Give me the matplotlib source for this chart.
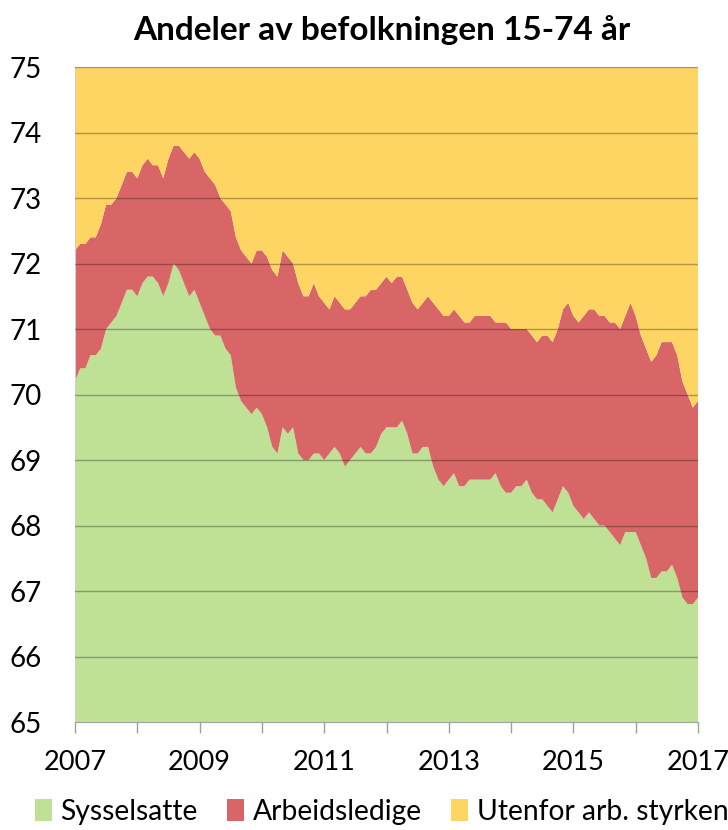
import matplotlib
matplotlib.use("Agg")
import matplotlib.pyplot as plt
from matplotlib.patches import Patch
import numpy as np

plt.rcParams['font.family'] = ['Lato', 'DejaVu Sans']

# Monthly data, Jan 2007 .. Jan 2017 (share of population 15-74, %)
sysselsatte = [
    70.2, 70.4, 70.4, 70.6, 70.6, 70.7, 71.0, 71.1, 71.2, 71.4, 71.6, 71.6,
    71.5, 71.7, 71.8, 71.8, 71.7, 71.5, 71.7, 72.0, 71.9, 71.7, 71.5, 71.6,
    71.4, 71.2, 71.0, 70.9, 70.9, 70.7, 70.6, 70.1, 69.9, 69.8, 69.7, 69.8,
    69.7, 69.5, 69.2, 69.1, 69.5, 69.4, 69.5, 69.1, 69.0, 69.0, 69.1, 69.1,
    69.0, 69.1, 69.2, 69.1, 68.9, 69.0, 69.1, 69.2, 69.1, 69.1, 69.2, 69.4,
    69.5, 69.5, 69.5, 69.6, 69.4, 69.1, 69.1, 69.2, 69.2, 68.9, 68.7, 68.6,
    68.7, 68.8, 68.6, 68.6, 68.7, 68.7, 68.7, 68.7, 68.7, 68.8, 68.6, 68.5,
    68.5, 68.6, 68.6, 68.7, 68.5, 68.4, 68.4, 68.3, 68.2, 68.4, 68.6, 68.5,
    68.3, 68.2, 68.1, 68.2, 68.1, 68.0, 68.0, 67.9, 67.8, 67.7, 67.9, 67.9,
    67.9, 67.7, 67.5, 67.2, 67.2, 67.3, 67.3, 67.4, 67.2, 66.9, 66.8, 66.8,
    66.9,
]
arbeidsstyrke = [
    72.2, 72.3, 72.3, 72.4, 72.4, 72.6, 72.9, 72.9, 73.0, 73.2, 73.4, 73.4,
    73.3, 73.5, 73.6, 73.5, 73.5, 73.3, 73.6, 73.8, 73.8, 73.7, 73.6, 73.7,
    73.6, 73.4, 73.3, 73.2, 73.0, 72.9, 72.8, 72.4, 72.2, 72.1, 72.0, 72.2,
    72.2, 72.1, 71.9, 71.8, 72.2, 72.1, 72.0, 71.7, 71.5, 71.5, 71.7, 71.5,
    71.4, 71.3, 71.5, 71.4, 71.3, 71.3, 71.4, 71.5, 71.5, 71.6, 71.6, 71.7,
    71.8, 71.7, 71.8, 71.8, 71.6, 71.4, 71.3, 71.4, 71.5, 71.4, 71.3, 71.2,
    71.2, 71.3, 71.2, 71.1, 71.1, 71.2, 71.2, 71.2, 71.2, 71.1, 71.1, 71.1,
    71.0, 71.0, 71.0, 71.0, 70.9, 70.8, 70.9, 70.9, 70.8, 71.0, 71.3, 71.4,
    71.2, 71.1, 71.2, 71.3, 71.3, 71.2, 71.2, 71.1, 71.1, 71.0, 71.2, 71.4,
    71.2, 70.9, 70.7, 70.5, 70.6, 70.8, 70.8, 70.8, 70.6, 70.2, 70.0, 69.8,
    69.9,
]
series_labels = ["Sysselsatte", "Arbeidsledige", "Utenfor arb. styrken"]
year_ticks = list(range(2007, 2018))
year_labels = ["2007", "", "2009", "", "2011", "", "2013", "", "2015", "", "2017"]
y_ticks = list(range(65, 76))
title = "Andeler av befolkningen 15-74 år"

syss = np.array(sysselsatte)
styrke = np.array(arbeidsstyrke)
ledige = styrke - syss
utenfor = 100.0 - styrke
x = 2007 + np.arange(len(syss)) / 12.0

colors = ["#BEE196", "#D86666", "#FED563"]

fig = plt.figure(figsize=(7.28, 8.30), dpi=100)
ax = fig.add_axes([75/728, 1 - 722/830, (698-75)/728, (722-67)/830])

ax.stackplot(x, syss, ledige, utenfor, colors=colors, linewidth=0)
ax.set_xlim(2007, 2017)
ax.set_ylim(65, 75)

for yv in y_ticks[1:]:
    ax.axhline(yv, color="black", alpha=0.3, lw=1.0, zorder=5)

ax.set_yticks(y_ticks)
ax.set_yticklabels([str(v) for v in y_ticks], fontsize=20)
ax.tick_params(axis="y", length=0, pad=24)
ax.set_xticks(year_ticks)
ax.set_xticklabels(year_labels, fontsize=19.5)
ax.tick_params(axis="x", direction="out", length=8, width=1, color="#A0A0A0", pad=12)

for s in ["top", "right"]:
    ax.spines[s].set_visible(False)
ax.spines["bottom"].set_color("#A0A0A0")
ax.spines["left"].set_color("#D0D0D0")
ax.spines["bottom"].set_zorder(6)

fig.text(0.525, 1 - 30/830, title, ha="center", va="center", fontsize=24, fontweight="bold")

handles = [Patch(facecolor=c, edgecolor="none") for c in colors]
fig.legend(handles, series_labels, loc="center left", bbox_to_anchor=(35/728, 1 - 812/830),
           ncol=3, frameon=False, fontsize=20.3, handlelength=0.6, handleheight=0.8,
           handletextpad=0.3, columnspacing=1.05, borderpad=0, borderaxespad=0)

fig.savefig("out.png", dpi=100)
